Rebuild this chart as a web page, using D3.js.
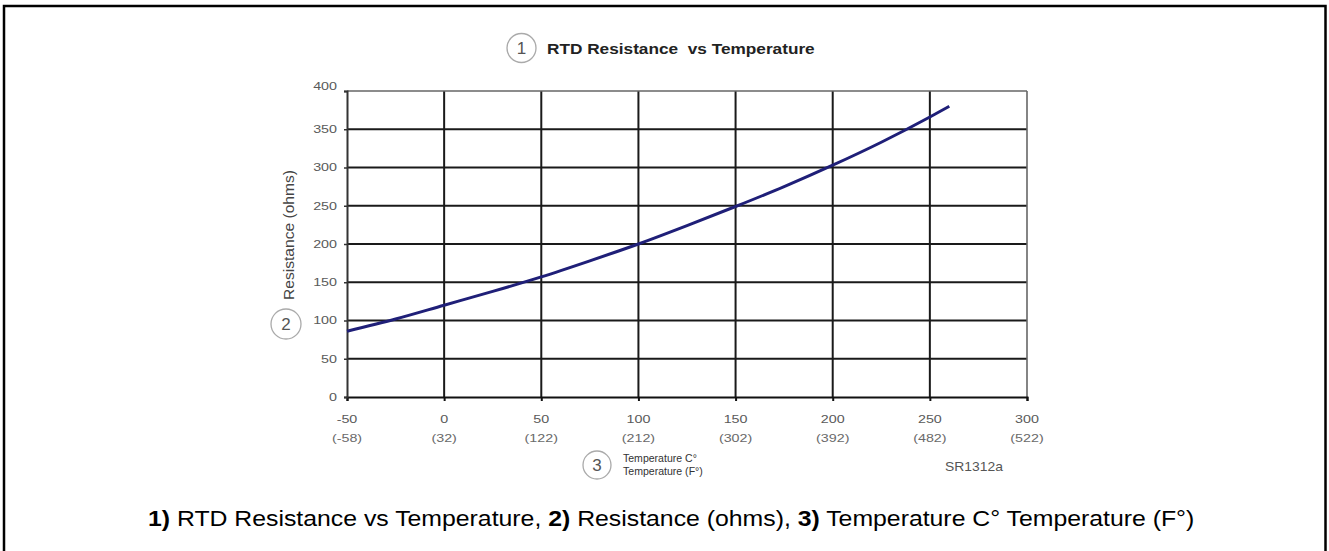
<!DOCTYPE html>
<html>
<head>
<meta charset="utf-8">
<script src="https://cdn.jsdelivr.net/npm/d3@7"></script>
<style>
  body { margin: 0; background: #fff; }
  svg { display: block; font-family: "Liberation Sans", Arial, sans-serif; }
</style>
</head>
<body>
<svg id="chart" width="1329" height="551"></svg>
<script>
// curve (deg C -> ohms)
const tempC = [-50, -25, 0, 25, 50, 75, 100, 125, 150, 175, 200, 225, 250, 260]
const ohms = [86, 102, 120, 138, 157, 178, 200, 224, 249, 275, 303, 333, 366, 380]

const xTicks = [-50, 0, 50, 100, 150, 200, 250, 300]
const xTicksF = ['(-58)', '(32)', '(122)', '(212)', '(302)', '(392)', '(482)', '(522)']
const yTicks = [0, 50, 100, 150, 200, 250, 300, 350, 400]

// the scanned figure is a bit wider than it is tall
const SX = 1.3

const svg = d3.select('#chart')

// stretch a text element horizontally so it covers `width` px, anchored at x0
function stretchTo(sel, x0, width) {
	const w = sel.node().getComputedTextLength()
	const k = width / w
	sel.attr('transform', `translate(${x0},0) scale(${k},1) translate(${-x0},0)`)
}

// outer frame (bottom edge runs off the page)
svg.append('rect')
	.attr('x', 4).attr('y', 6)
	.attr('width', 1321.5).attr('height', 600)
	.attr('fill', 'none')
	.attr('stroke', '#000')
	.attr('stroke-width', 2.5)

const x = d3.scaleLinear().domain([-50, 300]).range([347, 1027])
const y = d3.scaleLinear().domain([0, 400]).range([397, 91])

const plot = svg.append('g')

// grid
plot.selectAll('.vgrid')
	.data(xTicks.slice(1, -1))
	.enter().append('line')
	.attr('x1', d => x(d)).attr('x2', d => x(d))
	.attr('y1', y(400)).attr('y2', y(0))
	.attr('stroke', '#1a1a1a').attr('stroke-width', 2)

plot.selectAll('.hgrid')
	.data(yTicks.slice(1, -1))
	.enter().append('line')
	.attr('x1', x(-50)).attr('x2', x(300))
	.attr('y1', d => y(d)).attr('y2', d => y(d))
	.attr('stroke', '#1a1a1a').attr('stroke-width', 2)

// top and right frame lines are lighter
plot.append('line')
	.attr('x1', x(-50)).attr('x2', x(300))
	.attr('y1', y(400)).attr('y2', y(400))
	.attr('stroke', '#666').attr('stroke-width', 1.6)
plot.append('line')
	.attr('x1', x(300)).attr('x2', x(300))
	.attr('y1', y(400)).attr('y2', y(0))
	.attr('stroke', '#666').attr('stroke-width', 1.6)

// axes
const xAxis = plot.append('g')
	.attr('transform', `translate(0,${y(0)})`)
	.call(d3.axisBottom(x).tickValues(xTicks).tickSize(4).tickFormat(''))
xAxis.select('.domain').attr('stroke', '#111').attr('stroke-width', 2)
xAxis.selectAll('.tick line').attr('stroke', '#111').attr('stroke-width', 2)

const yAxis = plot.append('g')
	.attr('transform', `translate(${x(-50)},0)`)
	.call(d3.axisLeft(y).tickValues(yTicks).tickSize(3).tickFormat(''))
yAxis.select('.domain').attr('stroke', '#333').attr('stroke-width', 2)
yAxis.selectAll('.tick line').attr('stroke', '#333').attr('stroke-width', 1.5)

// tick labels
plot.selectAll('.ylab')
	.data(yTicks)
	.enter().append('text')
	.attr('transform', d => `translate(337,${y(d) + (d === 400 ? -5 : 0)}) scale(${SX},1)`)
	.attr('dy', '0.35em')
	.attr('text-anchor', 'end')
	.attr('font-size', 11)
	.attr('fill', '#5a5a5a')
	.text(d => d)

plot.selectAll('.xlab')
	.data(xTicks)
	.enter().append('text')
	.attr('transform', d => `translate(${x(d)},423) scale(${SX},1)`)
	.attr('text-anchor', 'middle')
	.attr('font-size', 11)
	.attr('fill', '#5a5a5a')
	.text(d => d)

plot.selectAll('.xlabF')
	.data(xTicks)
	.enter().append('text')
	.attr('transform', d => `translate(${x(d)},442) scale(${SX},1)`)
	.attr('text-anchor', 'middle')
	.attr('font-size', 11)
	.attr('fill', '#6a6a6a')
	.text((d, i) => xTicksF[i])

// the curve
const line = d3.line()
	.x((d, i) => x(tempC[i]))
	.y(d => y(d))
	.curve(d3.curveMonotoneX)

plot.append('path')
	.attr('d', line(ohms))
	.attr('fill', 'none')
	.attr('stroke', '#1f1f78')
	.attr('stroke-width', 3)

// numbered circles
function marker(cx, cy, r, label) {
	svg.append('circle')
		.attr('cx', cx).attr('cy', cy).attr('r', r)
		.attr('fill', '#fff').attr('stroke', '#aaa').attr('stroke-width', 1.3)
	svg.append('text')
		.attr('x', cx).attr('y', cy)
		.attr('dy', '0.36em')
		.attr('text-anchor', 'middle')
		.attr('font-size', 17)
		.attr('fill', '#555')
		.text(label)
}

marker(521.5, 48, 14.5, '1')
const title = svg.append('text')
	.attr('x', 547).attr('y', 54)
	.attr('font-size', 14).attr('font-weight', 'bold')
	.attr('fill', '#222')
	.style('white-space', 'pre')
	.text('RTD Resistance  vs Temperature')
stretchTo(title, 547, 268)

marker(286, 324, 15, '2')
svg.append('text')
	.attr('transform', 'translate(294,235) rotate(-90)')
	.attr('text-anchor', 'middle')
	.attr('font-size', 14)
	.attr('textLength', 130)
	.attr('lengthAdjust', 'spacingAndGlyphs')
	.attr('fill', '#444')
	.text('Resistance (ohms)')

marker(597, 465, 14, '3')
const t1 = svg.append('text')
	.attr('x', 623).attr('y', 462)
	.attr('font-size', 10).attr('fill', '#333')
	.text('Temperature C°')
stretchTo(t1, 623, 74)
const t2 = svg.append('text')
	.attr('x', 623).attr('y', 475)
	.attr('font-size', 10).attr('fill', '#333')
	.text('Temperature (F°)')
stretchTo(t2, 623, 80)

const sr = svg.append('text')
	.attr('x', 945).attr('y', 471)
	.attr('font-size', 12).attr('fill', '#555')
	.text('SR1312a')
stretchTo(sr, 945, 58)

// caption
const cap = svg.append('text')
	.attr('x', 148).attr('y', 526)
	.attr('font-size', 21.5).attr('fill', '#000')
const parts = [['1)', true], [' RTD Resistance vs Temperature, ', false], ['2)', true],
	[' Resistance (ohms), ', false], ['3)', true], [' Temperature C° Temperature (F°)', false]]
parts.forEach(p => {
	cap.append('tspan')
		.attr('font-weight', p[1] ? 'bold' : 'normal')
		.style('white-space', 'pre')
		.text(p[0])
})
stretchTo(cap, 148, 1047)
</script>
</body>
</html>
